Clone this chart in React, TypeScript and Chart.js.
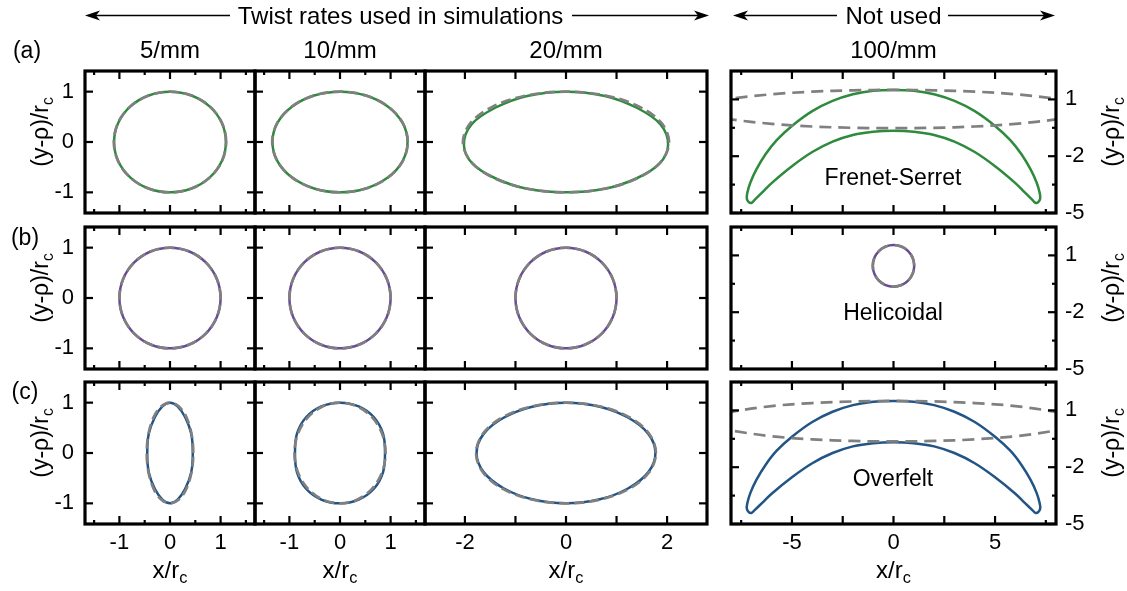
import React, { useEffect, useRef } from 'react';
import { Chart, registerables } from 'chart.js';

Chart.register(...registerables);

const FONT = '"Liberation Sans", Arial, Helvetica, sans-serif';

// ---------- text ----------
const headerUsed = 'Twist rates used in simulations';
const headerNotUsed = 'Not used';
const twistRates = ['5/mm', '10/mm', '20/mm', '100/mm'];
const rowTags = ['(a)', '(b)', '(c)'];
const methodNames = ['Frenet-Serret', 'Helicoidal', 'Overfelt'];

// ---------- ticks ----------
const xMajorNarrow = [-1, 0, 1];
const xMinorNarrow = [-1.5, -0.5, 0.5, 1.5];
const xLabelNarrow = [-1, 0, 1];
const xMajorMid = [-2, -1, 0, 1, 2];
const xLabelMid = [-2, 0, 2];
const xMajorWide = [-5, -2.5, 0, 2.5, 5];
const xMinorWide = [-7.5, 7.5];
const xLabelWide = [-5, 0, 5];
const yMajorNarrow = [-1, 0, 1];
const yLabelNarrow = [-1, 0, 1];
const yMajorWide = [1, -2, -5];
const yMinorWide = [-0.5, -3.5];
const yLabelWide = [1, -2, -5];

// ---------- axis ranges ----------
const xRangeNarrow = [-1.68, 1.68];
const xRangeMid = [-2.79, 2.79];
const xRangeWide = [-8, 8];
const yRangeNarrow = [-1.41, 1.41];
const yRangeWide = [-5, 2.5];

// ---------- closed curves (x, y) ----------
// row (a) Frenet-Serret
const a5Dashed = [[1.11,0],[1.026,0.383],[0.785,0.707],[0.425,0.924],[0,1],[-0.425,0.924],[-0.785,0.707],[-1.026,0.383],[-1.11,0],[-1.026,-0.383],[-0.785,-0.707],[-0.425,-0.924],[0,-1],[0.425,-0.924],[0.785,-0.707],[1.026,-0.383]];
const a5Solid = [[1.105,0],[1.022,0.383],[0.782,0.707],[0.423,0.924],[0,1],[-0.423,0.924],[-0.782,0.707],[-1.022,0.383],[-1.105,0],[-1.022,-0.383],[-0.782,-0.707],[-0.423,-0.924],[0,-1],[0.423,-0.924],[0.782,-0.707],[1.022,-0.383]];
const a10Dashed = [[1.34,0],[1.238,0.383],[0.947,0.707],[0.513,0.924],[0,1],[-0.513,0.924],[-0.947,0.707],[-1.238,0.383],[-1.34,0],[-1.238,-0.383],[-0.947,-0.707],[-0.513,-0.924],[0,-1],[0.513,-0.924],[0.947,-0.707],[1.238,-0.383]];
const a10Solid = [[1.335,0],[1.234,0.383],[0.944,0.707],[0.511,0.924],[0,1],[-0.511,0.924],[-0.944,0.707],[-1.234,0.383],[-1.335,0],[-1.234,-0.383],[-0.944,-0.707],[-0.511,-0.924],[0,-1],[0.511,-0.924],[0.944,-0.707],[1.234,-0.383]];
const a20Dashed = [[2.04,0],[1.885,0.383],[1.442,0.707],[0.781,0.924],[0,1],[-0.781,0.924],[-1.442,0.707],[-1.885,0.383],[-2.04,0],[-1.885,-0.383],[-1.442,-0.707],[-0.781,-0.924],[0,-1],[0.781,-0.924],[1.442,-0.707],[1.885,-0.383]];
const a20Solid = [[2.02,-0.06],[1.87,0.35],[1.4,0.68],[0.77,0.915],[0,1],[-0.77,0.915],[-1.4,0.68],[-1.87,0.35],[-2.02,-0.06],[-1.85,-0.43],[-1.4,-0.72],[-0.77,-0.93],[0,-1],[0.77,-0.93],[1.4,-0.72],[1.85,-0.43]];
const a100Dashed = [[9.5,0.49],[9,0.81],[8,1.035],[6,1.27],[4,1.41],[2,1.48],[0,1.5],[-2,1.48],[-4,1.41],[-6,1.27],[-8,1.035],[-9,0.81],[-9.5,0.49],[-9,0.17],[-8,-0.055],[-6,-0.29],[-4,-0.43],[-2,-0.5],[0,-0.52],[2,-0.5],[4,-0.43],[6,-0.29],[8,-0.055],[9,0.17]];
const a100Solid = [[0,1.5],[1,1.46],[2,1.27],[3,0.92],[4,0.38],[5,-0.4],[5.75,-1.15],[6.3,-1.9],[6.75,-2.7],[7.05,-3.4],[7.2,-3.95],[7.22,-4.25],[7.12,-4.43],[6.98,-4.46],[6.85,-4.32],[6.45,-3.9],[6,-3.42],[5,-2.53],[4,-1.78],[3,-1.23],[2,-0.88],[1,-0.71],[0,-0.66],[-1,-0.71],[-2,-0.88],[-3,-1.23],[-4,-1.78],[-5,-2.53],[-6,-3.42],[-6.45,-3.9],[-6.85,-4.32],[-6.98,-4.46],[-7.12,-4.43],[-7.22,-4.25],[-7.2,-3.95],[-7.05,-3.4],[-6.75,-2.7],[-6.3,-1.9],[-5.75,-1.15],[-5,-0.4],[-4,0.38],[-3,0.92],[-2,1.27],[-1,1.46]];

// row (b) Helicoidal
const bCircle = [[1,0],[0.924,0.383],[0.707,0.707],[0.383,0.924],[0,1],[-0.383,0.924],[-0.707,0.707],[-0.924,0.383],[-1,0],[-0.924,-0.383],[-0.707,-0.707],[-0.383,-0.924],[0,-1],[0.383,-0.924],[0.707,-0.707],[0.924,-0.383]];
const b100Circle = [[1.02,0.45],[0.942,0.871],[0.721,1.228],[0.39,1.466],[0,1.55],[-0.39,1.466],[-0.721,1.228],[-0.942,0.871],[-1.02,0.45],[-0.942,0.029],[-0.721,-0.328],[-0.39,-0.566],[0,-0.65],[0.39,-0.566],[0.721,-0.328],[0.942,0.029]];

// row (c) Overfelt
const c5Dashed = [[0.46,0],[0.425,0.383],[0.325,0.707],[0.176,0.924],[0,1],[-0.176,0.924],[-0.325,0.707],[-0.425,0.383],[-0.46,0],[-0.425,-0.383],[-0.325,-0.707],[-0.176,-0.924],[0,-1],[0.176,-0.924],[0.325,-0.707],[0.425,-0.383]];
const c5Solid = [[0.45,0],[0.42,0.38],[0.3,0.71],[0.15,0.925],[0,1],[-0.15,0.925],[-0.3,0.71],[-0.42,0.38],[-0.45,0],[-0.42,-0.38],[-0.3,-0.71],[-0.15,-0.925],[0,-1],[0.15,-0.925],[0.3,-0.71],[0.42,-0.38]];
const c10Dashed = [[0.9,0],[0.832,0.383],[0.636,0.707],[0.345,0.924],[0,1],[-0.345,0.924],[-0.636,0.707],[-0.832,0.383],[-0.9,0],[-0.832,-0.383],[-0.636,-0.707],[-0.345,-0.924],[0,-1],[0.345,-0.924],[0.636,-0.707],[0.832,-0.383]];
const c10Solid = [[0.89,0],[0.85,0.385],[0.67,0.71],[0.37,0.925],[0,1],[-0.37,0.925],[-0.67,0.71],[-0.85,0.385],[-0.89,0],[-0.85,-0.385],[-0.67,-0.71],[-0.37,-0.925],[0,-1],[0.37,-0.925],[0.67,-0.71],[0.85,-0.385]];
const c20Dashed = [[1.78,0],[1.645,0.383],[1.259,0.707],[0.681,0.924],[0,1],[-0.681,0.924],[-1.259,0.707],[-1.645,0.383],[-1.78,0],[-1.645,-0.383],[-1.259,-0.707],[-0.681,-0.924],[0,-1],[0.681,-0.924],[1.259,-0.707],[1.645,-0.383]];
const c20Solid = [[1.77,0],[1.63,0.38],[1.235,0.7],[0.67,0.92],[0,1],[-0.67,0.92],[-1.235,0.7],[-1.63,0.38],[-1.77,0],[-1.63,-0.38],[-1.235,-0.7],[-0.67,-0.92],[0,-1],[0.67,-0.92],[1.235,-0.7],[1.63,-0.38]];
const c100Dashed = [[9,0.43],[8.6,0.745],[8,0.92],[6,1.227],[4,1.389],[2,1.473],[0,1.5],[-2,1.473],[-4,1.389],[-6,1.227],[-8,0.92],[-8.6,0.745],[-9,0.43],[-8.6,0.115],[-8,-0.06],[-6,-0.367],[-4,-0.529],[-2,-0.613],[0,-0.64],[2,-0.613],[4,-0.529],[6,-0.367],[8,-0.06],[8.6,0.115]];
const c100Solid = [[0,1.5],[1,1.46],[2,1.28],[3,0.93],[4,0.39],[5,-0.39],[5.75,-1.13],[6.3,-1.88],[6.75,-2.67],[7.05,-3.37],[7.2,-3.92],[7.22,-4.2],[7.12,-4.38],[6.98,-4.41],[6.85,-4.28],[6.45,-3.87],[6,-3.4],[5,-2.53],[4,-1.79],[3,-1.25],[2,-0.9],[1,-0.73],[0,-0.68],[-1,-0.73],[-2,-0.9],[-3,-1.25],[-4,-1.79],[-5,-2.53],[-6,-3.4],[-6.45,-3.87],[-6.85,-4.28],[-6.98,-4.41],[-7.12,-4.38],[-7.22,-4.2],[-7.2,-3.92],[-7.05,-3.37],[-6.75,-2.67],[-6.3,-1.88],[-5.75,-1.13],[-5,-0.39],[-4,0.39],[-3,0.93],[-2,1.28],[-1,1.46]];

// ---------- styles ----------
const GREEN = '#2e8a3c';
const PURPLE = '#684c96';
const BLUE = '#225485';
const GRAY = '#808080';

// ---------- layout ----------
const COL_X = [[85, 255], [255, 425], [425, 707], [731, 1056]];
const ROW_Y = [[71, 213], [227, 369], [382, 524]];
const MARGIN = 44;

type Curve = { pts: number[][]; color: string; dashed: boolean; wide?: boolean };
type Spec = {
  col: number; row: number;
  xr: number[]; yr: number[];
  xMajor: number[]; xMinor: number[]; xLabels: number[] | null;
  yMajor: number[]; yMinor: number[]; yLabels: number[] | null; ySide: 'left' | 'right' | null;
  curves: Curve[];
};

const rowColors = [GREEN, PURPLE, BLUE];
const rowCurves: [number[][], number[][]][][] = [
  [[a5Dashed, a5Solid], [a10Dashed, a10Solid], [a20Dashed, a20Solid], [a100Dashed, a100Solid]],
  [[bCircle, bCircle], [bCircle, bCircle], [bCircle, bCircle], [b100Circle, b100Circle]],
  [[c5Dashed, c5Solid], [c10Dashed, c10Solid], [c20Dashed, c20Solid], [c100Dashed, c100Solid]],
];

const specs: Spec[] = [];
for (let row = 0; row < 3; row++) {
  for (let col = 0; col < 4; col++) {
    const wide = col === 3;
    const [dashed, solid] = rowCurves[row][col];
    specs.push({
      col, row,
      xr: col < 2 ? xRangeNarrow : col === 2 ? xRangeMid : xRangeWide,
      yr: wide ? yRangeWide : yRangeNarrow,
      xMajor: col < 2 ? xMajorNarrow : col === 2 ? xMajorMid : xMajorWide,
      xMinor: col < 2 ? xMinorNarrow : col === 2 ? [] : xMinorWide,
      xLabels: row === 2 ? (col < 2 ? xLabelNarrow : col === 2 ? xLabelMid : xLabelWide) : null,
      yMajor: wide ? yMajorWide : yMajorNarrow,
      yMinor: wide ? yMinorWide : [],
      yLabels: col === 0 ? yLabelNarrow : wide ? yLabelWide : null,
      ySide: col === 0 ? 'left' : wide ? 'right' : null,
      curves: [
        { pts: dashed, color: GRAY, dashed: true, wide },
        { pts: solid, color: rowColors[row], dashed: false },
      ],
    });
  }
}

function makeFrame(spec: Spec) {
  return {
    id: 'frame',
    // every curve is a closed loop: let the line element close itself smoothly
    beforeDatasetDraw(chart: any, args: any) {
      const line = args.meta && args.meta.dataset;
      if (!line) return;
      line._loop = true;
      line._fullLoop = true;
      line._pointsUpdated = false;
      line._segments = undefined;
      line._path = undefined;
      line.updateControlPoints(chart.chartArea, 'x');
    },
    afterDatasetsDraw(chart: any) {
      const { ctx, chartArea: a } = chart;
      const xs = chart.scales.x;
      const ys = chart.scales.y;
      ctx.save();
      ctx.strokeStyle = '#000';
      ctx.lineCap = 'butt';
      const seg = (x1: number, y1: number, x2: number, y2: number) => {
        ctx.beginPath(); ctx.moveTo(x1, y1); ctx.lineTo(x2, y2); ctx.stroke();
      };
      ctx.lineWidth = 2.2;
      const xt = (vals: number[], len: number) => vals.forEach((v) => {
        const p = xs.getPixelForValue(v);
        seg(p, a.top, p, a.top + len); seg(p, a.bottom, p, a.bottom - len);
      });
      const yt = (vals: number[], len: number) => vals.forEach((v) => {
        const p = ys.getPixelForValue(v);
        seg(a.left, p, a.left + len, p); seg(a.right, p, a.right - len, p);
      });
      xt(spec.xMajor, 8); xt(spec.xMinor, 4);
      yt(spec.yMajor, 8); yt(spec.yMinor, 4);
      ctx.lineWidth = 3.2;
      ctx.strokeRect(a.left, a.top, a.right - a.left, a.bottom - a.top);
      ctx.fillStyle = '#000';
      ctx.font = `22px ${FONT}`;
      ctx.textBaseline = 'middle';
      if (spec.xLabels) {
        ctx.textAlign = 'center';
        spec.xLabels.forEach((v) => ctx.fillText(String(v), xs.getPixelForValue(v), a.bottom + 19));
      }
      if (spec.yLabels && spec.ySide === 'left') {
        ctx.textAlign = 'right';
        spec.yLabels.forEach((v) => ctx.fillText(String(v), a.left - 11, ys.getPixelForValue(v)));
      }
      if (spec.yLabels && spec.ySide === 'right') {
        ctx.textAlign = 'left';
        spec.yLabels.forEach((v) => ctx.fillText(String(v), a.right + 9, ys.getPixelForValue(v)));
      }
      ctx.restore();
    },
  };
}

function Panel({ spec }: { spec: Spec }) {
  const ref = useRef<HTMLCanvasElement>(null);
  const [l, r] = COL_X[spec.col];
  const [t, b] = ROW_Y[spec.row];
  const w = r - l + 2 * MARGIN;
  const h = b - t + 2 * MARGIN;
  useEffect(() => {
    const chart = new Chart(ref.current as HTMLCanvasElement, {
      type: 'scatter',
      data: {
        datasets: spec.curves.map((c) => ({
          data: c.pts.map(([x, y]) => ({ x, y })),
          showLine: true,
          borderColor: c.color,
          backgroundColor: c.color,
          borderWidth: c.dashed ? 2.7 : 2.5,
          borderDash: c.dashed ? (c.wide ? [12, 7] : [10, 5]) : [],
          pointRadius: 0,
          pointHoverRadius: 0,
          tension: 0.34,
          spanGaps: true,
          fill: false,
        })),
      },
      options: {
        animation: false,
        responsive: false,
        maintainAspectRatio: false,
        events: [],
        layout: { padding: MARGIN },
        elements: { line: { capBezierPoints: false } },
        scales: {
          x: { type: 'linear', min: spec.xr[0], max: spec.xr[1], display: false },
          y: { type: 'linear', min: spec.yr[0], max: spec.yr[1], display: false },
        },
        plugins: { legend: { display: false }, tooltip: { enabled: false } },
      },
      plugins: [makeFrame(spec)],
    } as any);
    return () => chart.destroy();
  }, []);
  return (
    <canvas
      ref={ref}
      width={w}
      height={h}
      style={{ position: 'absolute', left: l - MARGIN, top: t - MARGIN, width: w, height: h }}
    />
  );
}

function Txt({ x, y, size, rotate, children }: { x: number; y: number; size: number; rotate?: boolean; children: any }) {
  return (
    <div
      style={{
        position: 'absolute', left: x, top: y,
        transform: `translate(-50%, -50%)${rotate ? ' rotate(-90deg)' : ''}`,
        fontSize: size, lineHeight: 1, whiteSpace: 'nowrap', fontFamily: FONT, color: '#000',
      }}
    >
      {children}
    </div>
  );
}

const Sub = ({ children }: { children: any }) => (
  <span style={{ fontSize: '0.68em', position: 'relative', top: '0.32em' }}>{children}</span>
);

// arrows: [tail x, tip x, y]
const ARROWS = [[230, 85, 15.5], [572, 709, 15.5], [837, 733, 15.5], [948, 1055, 15.5]];

export default function App() {
  const colCenter = COL_X.map(([l, r]) => (l + r) / 2);
  const rowCenter = ROW_Y.map(([t, b]) => (t + b) / 2);
  return (
    <div style={{ position: 'absolute', left: 0, top: 0, width: 1127, height: 591, background: '#fff', fontFamily: FONT }}>
      {specs.map((s, i) => <Panel key={i} spec={s} />)}
      <svg width={1127} height={591} style={{ position: 'absolute', left: 0, top: 0 }}>
        {ARROWS.map(([tail, tip, y], i) => {
          const d = tip > tail ? 1 : -1;
          const back = tip - d * 15;
          return (
            <g key={i}>
              <line x1={tail} y1={y} x2={tip - d * 10} y2={y} stroke="#000" strokeWidth={1.6} />
              <polygon points={`${tip},${y} ${back},${y - 5} ${tip - d * 11},${y} ${back},${y + 5}`} fill="#000" />
            </g>
          );
        })}
      </svg>
      <Txt x={400.5} y={15.5} size={24}>{headerUsed}</Txt>
      <Txt x={893.5} y={15.5} size={24}>{headerNotUsed}</Txt>
      {twistRates.map((t, i) => <Txt key={t} x={colCenter[i]} y={50} size={24}>{t}</Txt>)}
      <Txt x={27} y={50} size={23}>{rowTags[0]}</Txt>
      <Txt x={25} y={237} size={23}>{rowTags[1]}</Txt>
      <Txt x={25} y={391} size={23}>{rowTags[2]}</Txt>
      {rowCenter.map((c, i) => (
        <React.Fragment key={i}>
          <Txt x={40} y={c - 10} size={23} rotate>(y-ρ)/r<Sub>c</Sub></Txt>
          <Txt x={1111} y={c - 10} size={23} rotate>(y-ρ)/r<Sub>c</Sub></Txt>
        </React.Fragment>
      ))}
      {colCenter.map((c, i) => <Txt key={i} x={c} y={570} size={24}>x/r<Sub>c</Sub></Txt>)}
      <Txt x={893} y={177} size={23}>{methodNames[0]}</Txt>
      <Txt x={893} y={312} size={23}>{methodNames[1]}</Txt>
      <Txt x={893} y={478} size={23}>{methodNames[2]}</Txt>
    </div>
  );
}
